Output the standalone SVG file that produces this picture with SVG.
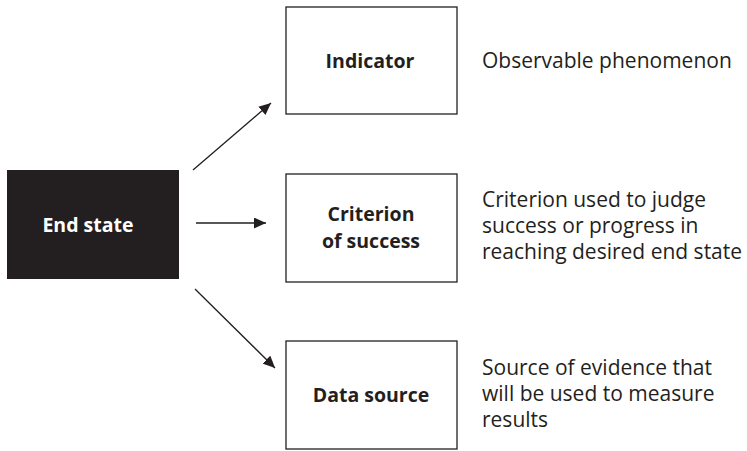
<svg xmlns="http://www.w3.org/2000/svg" width="747" height="451" viewBox="0 0 747 451">
<style>
.box{fill:#fff;stroke:#231f20;stroke-width:1.3}
.lbl{font-family:"Open Sans","Noto Sans",sans-serif;font-weight:bold;font-size:19.5px;fill:#231f20;text-anchor:middle}
.desc{font-family:"Open Sans","Noto Sans",sans-serif;font-size:21px;fill:#231f20}
.con{stroke:#231f20;stroke-width:1.3;fill:none}
</style>
<defs>
<marker id="ah" viewBox="0 0 12 11" refX="12" refY="5.5" markerWidth="12" markerHeight="11" markerUnits="userSpaceOnUse" orient="auto">
<path d="M0,0 L12,5.5 L0,11 Z" fill="#231f20"/>
</marker>
</defs>
<rect width="747" height="451" fill="#fff"/>
<g id="connectors">
<line class="con" x1="193" y1="170" x2="271" y2="103" marker-end="url(#ah)"/>
<line class="con" x1="196" y1="223" x2="266" y2="223" marker-end="url(#ah)"/>
<line class="con" x1="195" y1="289" x2="275" y2="368" marker-end="url(#ah)"/>
</g>
<g id="end-state">
<rect x="7" y="170" width="172" height="109" fill="#231f20"/>
<text class="lbl" x="88" y="232" style="fill:#fff">End state</text>
</g>
<g id="indicator">
<rect class="box" x="286" y="7" width="171" height="107"/>
<text class="lbl" x="370" y="68">Indicator</text>
</g>
<g id="criterion">
<rect class="box" x="286" y="174" width="171" height="108"/>
<text class="lbl" x="371" y="221">Criterion</text>
<text class="lbl" x="371" y="248">of success</text>
</g>
<g id="data-source">
<rect class="box" x="286" y="341" width="171" height="108"/>
<text class="lbl" x="371" y="402">Data source</text>
</g>
<g id="descriptions">
<text class="desc" x="482" y="68">Observable phenomenon</text>
<text class="desc" x="482" y="207">Criterion used to judge</text>
<text class="desc" x="482" y="233">success or progress in</text>
<text class="desc" x="482" y="259">reaching desired end state</text>
<text class="desc" x="482" y="375">Source of evidence that</text>
<text class="desc" x="482" y="401">will be used to measure</text>
<text class="desc" x="482" y="427">results</text>
</g>
</svg>
